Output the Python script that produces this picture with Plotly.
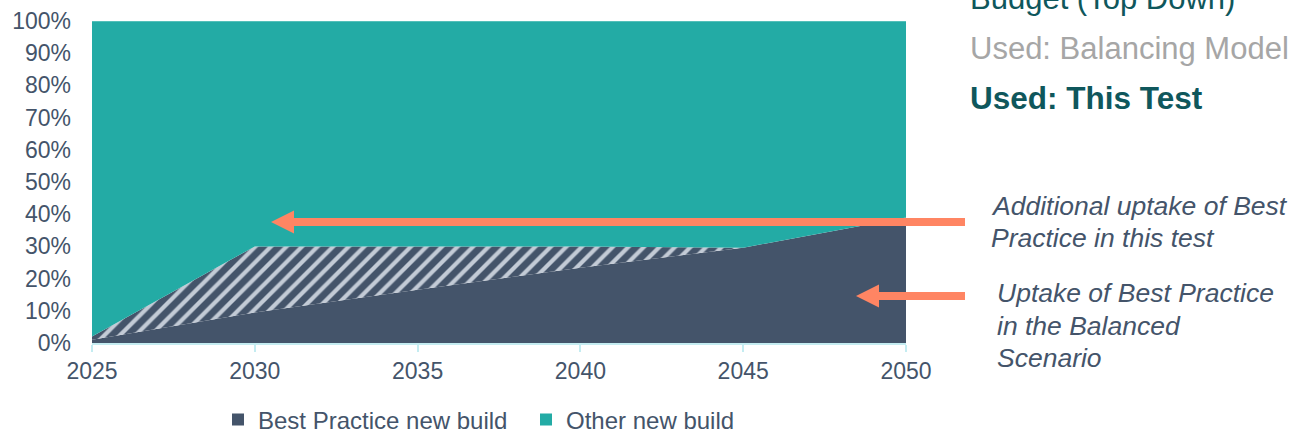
import plotly.graph_objects as go

# Share of new build (% of total) by year
years = [2025, 2030, 2035, 2040, 2045, 2050]
bp_balanced = [1.0, 9.5, 16.5, 23.4, 29.6, 39.0]      # Best Practice, Balanced Scenario
bp_this_test = [2.0, 30.0, 30.0, 30.0, 29.6, 39.0]     # Best Practice, this test
other_new_build = [100 - v for v in bp_this_test]
bp_additional = [t - b for t, b in zip(bp_this_test, bp_balanced)]

y_ticks = list(range(0, 101, 10))
x_ticks = years

DARK = "#44546A"
TEAL = "#23ABA5"
HATCH = "#C3CBD6"
ORANGE = "#FF8563"
AXIS = "#C4ECF1"
DEEP_TEAL = "#0F575C"
GREY = "#A6A6A6"
FONT = "Liberation Sans, Arial, sans-serif"

W, H = 1294, 433
M_L, M_R, M_T, M_B = 92, 388, 21, 90
PW, PH = W - M_L - M_R, H - M_T - M_B


def px(x):
    return (x - M_L) / PW


def py(y):
    return (H - M_B - y) / PH


fig = go.Figure()

fig.add_trace(go.Scatter(
    x=years, y=bp_balanced, stackgroup="share", mode="none",
    fillcolor=DARK, showlegend=False, hoverinfo="skip",
))
fig.add_trace(go.Scatter(
    x=years, y=bp_additional, stackgroup="share", mode="none",
    fillcolor=DARK,
    fillpattern=dict(shape="/", bgcolor=DARK, fgcolor=HATCH, size=11,
                     solidity=0.38, fillmode="replace"),
    showlegend=False, hoverinfo="skip",
))
fig.add_trace(go.Scatter(
    x=years, y=other_new_build, stackgroup="share", mode="lines",
    line=dict(width=1, color="#86D3CE"),
    fillcolor=TEAL, showlegend=False, hoverinfo="skip",
))

# legend entries as square swatches
fig.add_trace(go.Scatter(
    x=[None], y=[None], mode="markers", name="Best Practice new build",
    marker=dict(symbol="square", size=12, color=DARK),
))
fig.add_trace(go.Scatter(
    x=[None], y=[None], mode="markers", name="Other new build",
    marker=dict(symbol="square", size=12, color=TEAL),
))


def arrow(x_tail, x_tip, y_mid, shaft=8, head_len=23, head_h=23):
    base = x_tip + head_len
    pts = [
        (x_tail, y_mid - shaft / 2), (base, y_mid - shaft / 2),
        (base, y_mid - head_h / 2), (x_tip, y_mid),
        (base, y_mid + head_h / 2), (base, y_mid + shaft / 2),
        (x_tail, y_mid + shaft / 2),
    ]
    path = "M " + " L ".join(f"{px(a):.5f},{py(b):.5f}" for a, b in pts) + " Z"
    return dict(type="path", xref="paper", yref="paper", path=path,
                fillcolor=ORANGE, line=dict(width=0), layer="above")


def label(text, x, y, size, color):
    return dict(x=px(x), y=py(y), xref="paper", yref="paper", xanchor="left",
                yanchor="middle", align="left", text=text, showarrow=False,
                font=dict(family=FONT, size=size, color=color))


notes = [
    label("Budget (Top Down)", 968, -2, 31, DEEP_TEAL),
    label("Used: Balancing Model", 968, 48, 31, GREY),
    label("<b>Used: This Test</b>", 968, 98, 31.5, DEEP_TEAL),
    label("<i>Additional uptake of Best</i>", 989, 206, 26.5, DARK),
    label("<i>Practice in this test</i>", 989, 238, 26.5, DARK),
    label("<i>Uptake of Best Practice</i>", 995, 293, 26.5, DARK),
    label("<i>in the Balanced</i>", 995, 326, 26.5, DARK),
    label("<i>Scenario</i>", 995, 358, 26.5, DARK),
]

fig.update_layout(
    shapes=[arrow(965, 271, 222), arrow(965, 856, 296)],
    annotations=notes,
    width=W, height=H,
    margin=dict(l=M_L, r=M_R, t=M_T, b=M_B, pad=0, autoexpand=False),
    paper_bgcolor="white", plot_bgcolor="white",
    font=dict(family=FONT, size=23, color=DARK),
    xaxis=dict(
        range=[2025, 2050], tickvals=x_ticks, ticktext=[str(v) for v in x_ticks],
        showgrid=False, zeroline=False, showline=True, linecolor=AXIS, linewidth=1.5,
        ticks="outside", ticklen=7, tickwidth=1.5, tickcolor=AXIS,
        tickfont=dict(family=FONT, size=23, color=DARK), automargin=False,
    ),
    yaxis=dict(
        range=[0, 100], tickvals=y_ticks, ticktext=[f"{v}%" for v in y_ticks],
        showgrid=False, zeroline=False, showline=False, ticks="",
        ticklabelstandoff=20, automargin=False,
        tickfont=dict(family=FONT, size=23, color=DARK),
    ),
    legend=dict(
        orientation="h", x=px(218), y=py(420), xanchor="left", yanchor="middle",
        traceorder="normal", entrywidth=263, entrywidthmode="pixels", itemwidth=30,
        font=dict(family=FONT, size=24, color=DARK), bgcolor="rgba(0,0,0,0)",
    ),
)

fig.write_html("out.html")
